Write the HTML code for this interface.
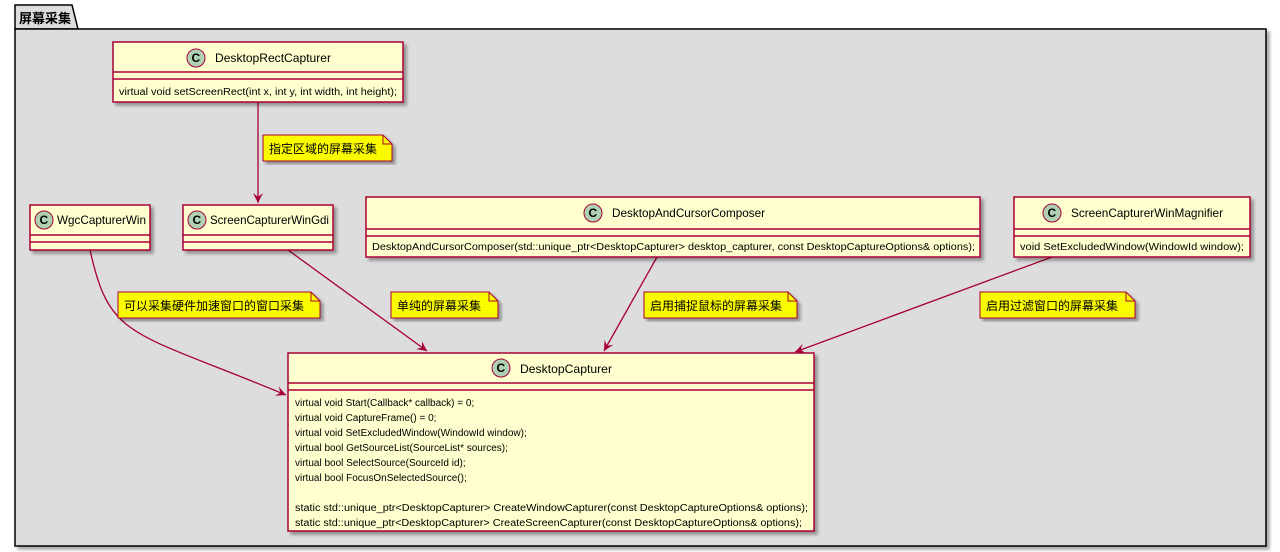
<!DOCTYPE html>
<html><head><meta charset="utf-8"><style>
html,body{margin:0;padding:0;background:#fff;width:1280px;height:552px;overflow:hidden}
svg text{font-family:"Liberation Sans","Noto Sans CJK SC",sans-serif;fill:#000}
</style></head><body>
<svg width="1280" height="552" viewBox="0 0 1280 552" xmlns="http://www.w3.org/2000/svg">
<defs>
<filter id="sh" x="-5%" y="-5%" width="110%" height="120%"><feDropShadow dx="3" dy="3" stdDeviation="1.5" flood-color="#000" flood-opacity="0.35"/></filter>
<marker id="ar" markerWidth="12" markerHeight="12" refX="10" refY="5" orient="auto" markerUnits="userSpaceOnUse"><path d="M0,0 L10,5 L0,10 L4,5 Z" fill="#A80036"/></marker>
</defs>
<path d="M15,5 L72,5 L78,29 L15,29 Z" fill="#DDDDDD" stroke="#000" stroke-width="1.5"/>
<rect x="15" y="29" width="1251" height="517" fill="#DDDDDD" stroke="#000" stroke-width="1.5" filter="url(#sh)"/>
<text x="19" y="23" font-size="13" font-weight="bold">屏幕采集</text>

<g stroke="#A80036" stroke-width="1.3" fill="none">
<line x1="258" y1="102" x2="258" y2="203" marker-end="url(#ar)"/>
<path d="M90,250 C110,340 130,330 286,395" marker-end="url(#ar)"/>
<line x1="288" y1="250" x2="427" y2="351" marker-end="url(#ar)"/>
<line x1="657" y1="257" x2="604" y2="351" marker-end="url(#ar)"/>
<line x1="1052" y1="257" x2="795" y2="352" marker-end="url(#ar)"/>
</g>

<g font-size="11">
<g filter="url(#sh)"><rect x="113" y="42" width="290" height="60" fill="#FEFECE" stroke="#A80036" stroke-width="1.5"/></g>
<line x1="113" y1="72" x2="403" y2="72" stroke="#A80036" stroke-width="1.5"/>
<line x1="113" y1="79" x2="403" y2="79" stroke="#A80036" stroke-width="1.5"/>
<circle cx="196" cy="58" r="9" fill="#ADD1B2" stroke="#A80036"/><text x="191.5" y="62" font-size="12" font-weight="bold">C</text>
<text x="215" y="62" font-size="12" textLength="116" lengthAdjust="spacingAndGlyphs">DesktopRectCapturer</text>
<text x="119" y="95" font-size="10" textLength="278" lengthAdjust="spacingAndGlyphs">virtual void setScreenRect(int x, int y, int width, int height);</text>

<g filter="url(#sh)"><rect x="30" y="205" width="120" height="45" fill="#FEFECE" stroke="#A80036" stroke-width="1.5"/></g>
<line x1="30" y1="235" x2="150" y2="235" stroke="#A80036" stroke-width="1.5"/>
<line x1="30" y1="242" x2="150" y2="242" stroke="#A80036" stroke-width="1.5"/>
<circle cx="44" cy="220" r="9" fill="#ADD1B2" stroke="#A80036"/><text x="39.5" y="224" font-size="12" font-weight="bold">C</text>
<text x="57" y="224" font-size="12" textLength="89" lengthAdjust="spacingAndGlyphs">WgcCapturerWin</text>

<g filter="url(#sh)"><rect x="183" y="205" width="150" height="45" fill="#FEFECE" stroke="#A80036" stroke-width="1.5"/></g>
<line x1="183" y1="235" x2="333" y2="235" stroke="#A80036" stroke-width="1.5"/>
<line x1="183" y1="242" x2="333" y2="242" stroke="#A80036" stroke-width="1.5"/>
<circle cx="197" cy="220" r="9" fill="#ADD1B2" stroke="#A80036"/><text x="192.5" y="224" font-size="12" font-weight="bold">C</text>
<text x="210" y="224" font-size="12" textLength="119" lengthAdjust="spacingAndGlyphs">ScreenCapturerWinGdi</text>

<g filter="url(#sh)"><rect x="366" y="197" width="614" height="60" fill="#FEFECE" stroke="#A80036" stroke-width="1.5"/></g>
<line x1="366" y1="229" x2="980" y2="229" stroke="#A80036" stroke-width="1.5"/>
<line x1="366" y1="236" x2="980" y2="236" stroke="#A80036" stroke-width="1.5"/>
<circle cx="593" cy="213" r="9" fill="#ADD1B2" stroke="#A80036"/><text x="588.5" y="217" font-size="12" font-weight="bold">C</text>
<text x="612" y="217" font-size="12" textLength="153" lengthAdjust="spacingAndGlyphs">DesktopAndCursorComposer</text>
<text x="372" y="250" font-size="10" textLength="603" lengthAdjust="spacingAndGlyphs">DesktopAndCursorComposer(std::unique_ptr&lt;DesktopCapturer&gt; desktop_capturer, const DesktopCaptureOptions&amp; options);</text>

<g filter="url(#sh)"><rect x="1014" y="197" width="236" height="60" fill="#FEFECE" stroke="#A80036" stroke-width="1.5"/></g>
<line x1="1014" y1="229" x2="1250" y2="229" stroke="#A80036" stroke-width="1.5"/>
<line x1="1014" y1="236" x2="1250" y2="236" stroke="#A80036" stroke-width="1.5"/>
<circle cx="1052" cy="213" r="9" fill="#ADD1B2" stroke="#A80036"/><text x="1047.5" y="217" font-size="12" font-weight="bold">C</text>
<text x="1071" y="217" font-size="12" textLength="152" lengthAdjust="spacingAndGlyphs">ScreenCapturerWinMagnifier</text>
<text x="1020" y="250" font-size="10" textLength="224" lengthAdjust="spacingAndGlyphs">void SetExcludedWindow(WindowId window);</text>

<g filter="url(#sh)"><rect x="288" y="353" width="526" height="178" fill="#FEFECE" stroke="#A80036" stroke-width="1.5"/></g>
<line x1="288" y1="383" x2="814" y2="383" stroke="#A80036" stroke-width="1.5"/>
<line x1="288" y1="390" x2="814" y2="390" stroke="#A80036" stroke-width="1.5"/>
<circle cx="501" cy="368" r="9" fill="#ADD1B2" stroke="#A80036"/><text x="496.5" y="372" font-size="12" font-weight="bold">C</text>
<text x="520" y="373" font-size="12" textLength="92" lengthAdjust="spacingAndGlyphs">DesktopCapturer</text>
<g font-size="10">
<text x="295" y="406">virtual void Start(Callback* callback) = 0;</text>
<text x="295" y="421">virtual void CaptureFrame() = 0;</text>
<text x="295" y="436">virtual void SetExcludedWindow(WindowId window);</text>
<text x="295" y="451">virtual bool GetSourceList(SourceList* sources);</text>
<text x="295" y="466">virtual bool SelectSource(SourceId id);</text>
<text x="295" y="481">virtual bool FocusOnSelectedSource();</text>
<text x="295" y="511" textLength="513" lengthAdjust="spacingAndGlyphs">static std::unique_ptr&lt;DesktopCapturer&gt; CreateWindowCapturer(const DesktopCaptureOptions&amp; options);</text>
<text x="295" y="526" textLength="507" lengthAdjust="spacingAndGlyphs">static std::unique_ptr&lt;DesktopCapturer&gt; CreateScreenCapturer(const DesktopCaptureOptions&amp; options);</text>
</g>

<g font-size="12">
<g filter="url(#sh)"><path d="M263,135 L383,135 L392,144 L392,161 L263,161 Z" fill="#FBFB00" stroke="#A80036"/></g>
<path d="M383,135 L383,144 L392,144" fill="none" stroke="#A80036"/>
<text x="269" y="153">指定区域的屏幕采集</text>

<g filter="url(#sh)"><path d="M118,292 L311,292 L320,301 L320,318 L118,318 Z" fill="#FBFB00" stroke="#A80036"/></g>
<path d="M311,292 L311,301 L320,301" fill="none" stroke="#A80036"/>
<text x="124" y="310">可以采集硬件加速窗口的窗口采集</text>

<g filter="url(#sh)"><path d="M391,292 L489,292 L498,301 L498,318 L391,318 Z" fill="#FBFB00" stroke="#A80036"/></g>
<path d="M489,292 L489,301 L498,301" fill="none" stroke="#A80036"/>
<text x="397" y="310">单纯的屏幕采集</text>

<g filter="url(#sh)"><path d="M644,292 L788,292 L797,301 L797,318 L644,318 Z" fill="#FBFB00" stroke="#A80036"/></g>
<path d="M788,292 L788,301 L797,301" fill="none" stroke="#A80036"/>
<text x="650" y="310">启用捕捉鼠标的屏幕采集</text>

<g filter="url(#sh)"><path d="M980,292 L1126,292 L1135,301 L1135,318 L980,318 Z" fill="#FBFB00" stroke="#A80036"/></g>
<path d="M1126,292 L1126,301 L1135,301" fill="none" stroke="#A80036"/>
<text x="986" y="310">启用过滤窗口的屏幕采集</text>
</g>
</g>
</svg>
</body></html>
